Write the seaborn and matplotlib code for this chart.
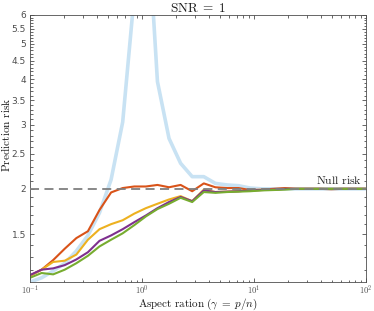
import numpy as np
import pandas as pd
import matplotlib
matplotlib.use("Agg")
import matplotlib.pyplot as plt
import matplotlib.ticker as mticker
import seaborn as sns

# aspect ratio grid (gamma = p/n), 30 log-spaced points from 0.1 to 100
gamma = [0.1, 0.1269, 0.1610, 0.2043, 0.2593, 0.3290, 0.4175, 0.5298, 0.6723, 0.8532,
         1.0826, 1.3738, 1.7433, 2.2122, 2.8072, 3.5622, 4.5203, 5.7362, 7.2790, 9.2367,
         11.721, 14.874, 18.874, 23.950, 30.392, 38.566, 48.939, 62.102, 78.805, 100.0]

# prediction risk
risk_blue = [1.11, 1.14, 1.19, 1.25, 1.35, 1.49, 1.72, 2.12, 3.05, 6.8,
             13.2, 3.94, 2.75, 2.35, 2.16, 2.16, 2.07, 2.05, 2.04, 2.01,
             2.0, 2.0, 2.0, 2.0, 2.0, 2.0, 2.0, 2.0, 2.0, 2.0]
risk_orange = [1.155, 1.20, 1.275, 1.37, 1.465, 1.53, 1.75, 1.955, 2.01, 2.03,
               2.03, 2.05, 2.02, 2.05, 1.97, 2.07, 2.02, 2.01, 2.01, 1.985,
               1.99, 2.0, 2.01, 2.0, 2.0, 2.0, 1.995, 2.0, 2.0, 2.0]
risk_yellow = [1.155, 1.20, 1.26, 1.27, 1.32, 1.45, 1.55, 1.60, 1.64, 1.71,
               1.77, 1.82, 1.87, 1.91, 1.85, 1.99, 1.96, 1.965, 1.97, 1.98,
               1.985, 1.99, 2.0, 2.0, 2.0, 2.0, 2.0, 2.0, 2.0, 2.0]
risk_purple = [1.16, 1.20, 1.21, 1.235, 1.28, 1.34, 1.44, 1.49, 1.55, 1.62,
               1.69, 1.77, 1.84, 1.90, 1.85, 1.98, 1.96, 1.965, 1.97, 1.98,
               1.985, 1.99, 2.0, 2.0, 2.0, 2.0, 2.0, 2.0, 2.0, 2.0]
risk_green = [1.14, 1.175, 1.165, 1.20, 1.25, 1.31, 1.39, 1.45, 1.51, 1.59,
              1.68, 1.76, 1.82, 1.89, 1.84, 1.96, 1.95, 1.96, 1.965, 1.97,
              1.98, 1.985, 1.99, 2.0, 2.0, 2.0, 2.0, 2.0, 2.0, 2.0]
null_risk = 2.0

y_ticks = [1.5, 2, 2.5, 3, 3.5, 4, 4.5, 5, 5.5, 6]
y_tick_labels = ["1.5", "2", "2.5", "3", "3.5", "4", "4.5", "5", "5.5", "6"]
x_ticks = [0.1, 1, 10, 100]
x_tick_labels = [r"$10^{-1}$", r"$10^{0}$", r"$10^{1}$", r"$10^{2}$"]

sns.set_style("ticks")
plt.rcParams["font.family"] = ["DejaVu Sans"]
plt.rcParams["mathtext.fontset"] = "cm"

fig = plt.figure(figsize=(3.74, 3.11), dpi=100)
ax = fig.add_axes([0.0802, 0.0932, 0.8984, 0.8586])

df = pd.DataFrame({"gamma": gamma, "blue": risk_blue, "orange": risk_orange,
                   "yellow": risk_yellow, "purple": risk_purple, "green": risk_green})

# theory-like curve first, pale and thick
sns.lineplot(data=df, x="gamma", y="blue", color="#c8e2f3", lw=2.6, ax=ax)
series = [("orange", "#d95319"), ("yellow", "#edb120"),
          ("purple", "#7e2f8e"), ("green", "#77ac30")]
for name, col in series:
    sns.lineplot(data=df, x="gamma", y=name, color=col, lw=1.5, ax=ax)

ax.axhline(null_risk, color="#7f7f7f", ls=(0, (5, 3)), lw=1.3, zorder=5)
ax.text(93, 2.025, r"$\mathrm{Null\ risk}$", ha="right", va="bottom",
        fontsize=8.5, color="#262626")

ax.set_xscale("log")
ax.set_yscale("log")
ax.set_xlim(0.1, 100)
ax.set_ylim(1.11, 6)

ax.set_xticks(x_ticks)
ax.set_xticklabels(x_tick_labels)
ax.xaxis.set_minor_locator(mticker.LogLocator(base=10, subs=np.arange(2, 10)))
ax.xaxis.set_minor_formatter(mticker.NullFormatter())

ax.set_yticks(y_ticks)
ax.set_yticklabels(y_tick_labels)
minor_y = [v / 10 for v in range(12, 60) if (v % 5) != 0]
ax.yaxis.set_minor_locator(mticker.FixedLocator(minor_y))
ax.yaxis.set_minor_formatter(mticker.NullFormatter())

ax.tick_params(which="both", direction="in", top=True, right=True,
               colors="#4d4d4d", labelsize=6.5, width=0.6)
ax.tick_params(which="major", length=3.2, pad=3)
ax.tick_params(axis="x", which="major", pad=1.5, labelsize=6.2)
ax.tick_params(which="minor", length=1.8)
for sp in ax.spines.values():
    sp.set_color("#4d4d4d")
    sp.set_linewidth(0.6)

ax.set_title(r"$\mathrm{SNR}\;=\;1$", fontsize=9.5, pad=1.5, color="#1a1a1a")
ax.set_xlabel(r"$\mathrm{Aspect\ ration}\ (\gamma\;=\;p/n)$", fontsize=8,
              color="#1a1a1a")
ax.xaxis.set_label_coords(0.5, -0.054)
ax.set_ylabel(r"$\mathrm{Prediction\ risk}$", fontsize=8.2, color="#1a1a1a")
ax.yaxis.set_label_coords(-0.054, 0.55)

fig.savefig("out.png", dpi=100)
